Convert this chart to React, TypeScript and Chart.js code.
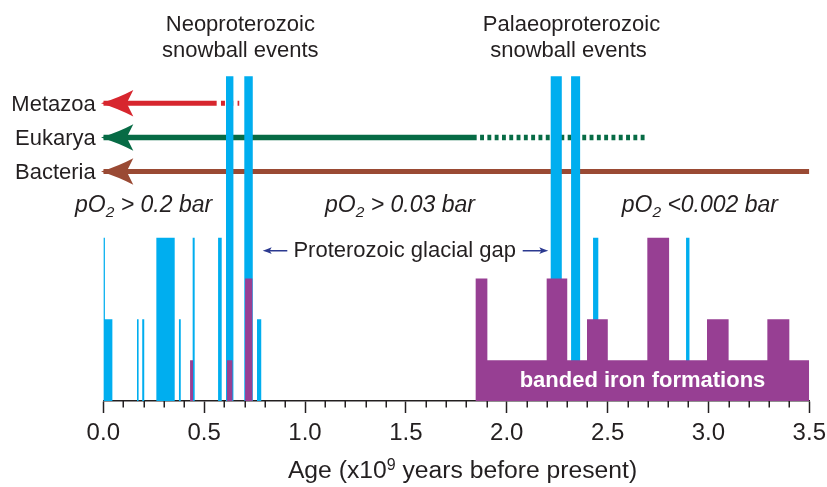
import React, { useEffect, useRef } from 'react';
import { Chart, registerables } from 'chart.js';

Chart.register(...registerables);

// ---------- data (age in 10^9 years before present; bar heights in record levels) ----------
const glacialStart = [0.0, 0.0, 0.167, 0.193, 0.263, 0.375, 0.443, 0.569, 0.762, 2.428, 2.889];
const glacialEnd = [0.008, 0.045, 0.175, 0.203, 0.354, 0.384, 0.453, 0.587, 0.783, 2.454, 2.907];
const glacialLevel = [4, 2, 2, 2, 4, 2, 4, 4, 2, 4, 4];

const snowballStart = [0.608, 0.699, 2.218, 2.319];
const snowballEnd = [0.645, 0.741, 2.273, 2.365];
const snowballLevel = [7.95, 7.95, 7.95, 7.95];

const bifStart = [0.43, 0.613, 0.703, 1.846, 1.846, 2.198, 2.398, 2.697, 2.993, 3.292];
const bifEnd = [0.445, 0.64, 0.739, 3.5, 1.904, 2.3, 2.501, 2.805, 3.1, 3.401];
const bifLevel = [1, 1, 3, 1, 3, 3, 2, 4, 2, 2];

const lineageNames = ['Metazoa', 'Eukarya', 'Bacteria'];
const lineageSolidEnd = [0.562, 1.851, 3.5];
const lineageUncertainEnd: (number | null)[] = [0.674, 2.699, null];

const ageMin = 0;
const ageMax = 3.5;
const ageMajorStep = 0.5;
const ageMinorStep = 0.1;

const oxygenLabels = [' > 0.2 bar', ' > 0.03 bar', ' <0.002 bar'];

// ---------- layout / style ----------
const W = 827;
const H = 487;
const FONT = "'Liberation Sans', Arial, Helvetica, sans-serif";
const TEXT = '#231f20';
const BLUE = '#00aeef';
const PURPLE = '#973f93';
const GAP_BLUE = '#2b3990';
const lineageColor = ['#d7262e', '#076b45', '#9a4a34'];
const lineageRow = [7.29, 6.45, 5.62];
const oxygenX = [75, 325, 621.7];

function stepPoints(starts: number[], ends: number[], levels: number[]) {
  const edges = Array.from(new Set([...starts, ...ends])).sort((a, b) => a - b);
  const pts: { x: number; y: number }[] = [];
  for (let i = 0; i < edges.length; i++) {
    const a = edges[i];
    const b = edges[i + 1];
    let h = 0;
    if (b !== undefined) {
      const m = (a + b) / 2;
      starts.forEach((s, k) => {
        if (s <= m && ends[k] >= m) h = Math.max(h, levels[k]);
      });
    }
    pts.push({ x: a, y: h });
  }
  return pts;
}

function drawHead(ctx: CanvasRenderingContext2D, tipX: number, y: number, len: number, half: number, notch: number, color: string, dir = 1) {
  ctx.fillStyle = color;
  ctx.beginPath();
  ctx.moveTo(tipX, y);
  ctx.quadraticCurveTo(tipX + dir * len * 0.55, y - half * 0.42, tipX + dir * len, y - half);
  ctx.lineTo(tipX + dir * (len - notch), y);
  ctx.lineTo(tipX + dir * len, y + half);
  ctx.quadraticCurveTo(tipX + dir * len * 0.55, y + half * 0.42, tipX, y);
  ctx.closePath();
  ctx.fill();
}

const annotations = {
  id: 'annotations',
  afterDraw(chart: any) {
    const { ctx } = chart;
    const x = chart.scales.x;
    const y = chart.scales.y;
    ctx.save();

    // minor ticks
    ctx.strokeStyle = TEXT;
    ctx.lineWidth = 1.5;
    const n = Math.round((ageMax - ageMin) / ageMinorStep);
    const per = Math.round(ageMajorStep / ageMinorStep);
    const base = chart.chartArea.bottom;
    for (let i = 1; i < n; i++) {
      if (i % per === 0) continue;
      const px = Math.round(x.getPixelForValue(ageMin + i * ageMinorStep)) + 0.25;
      ctx.beginPath();
      ctx.moveTo(px, base);
      ctx.lineTo(px, base + 6.5);
      ctx.stroke();
    }

    // lineage arrowheads + labels
    lineageNames.forEach((name, i) => {
      const py = y.getPixelForValue(lineageRow[i]);
      const tip = x.getPixelForValue(0) - 2.3;
      drawHead(ctx, tip, py, 32.3, 13.3, 6.6, lineageColor[i]);
      ctx.font = `22px ${FONT}`;
      ctx.fillStyle = TEXT;
      ctx.textAlign = 'right';
      ctx.textBaseline = 'alphabetic';
      ctx.fillText(name, tip - 5.3, py + 7.5);
    });

    // snowball titles
    ctx.font = `22px ${FONT}`;
    ctx.fillStyle = TEXT;
    ctx.textAlign = 'center';
    const neoX = x.getPixelForValue((snowballStart[0] + snowballEnd[1]) / 2);
    const palX = x.getPixelForValue((snowballStart[2] + snowballEnd[3]) / 2) + 3;
    ctx.fillText('Neoproterozoic', neoX + 1, 31);
    ctx.fillText('snowball events', neoX + 1, 57);
    ctx.fillText('Palaeoproterozoic', palX + 3, 31);
    ctx.fillText('snowball events', palX, 57);

    // pO2 labels
    oxygenLabels.forEach((rest, i) => {
      let cx = oxygenX[i];
      const bl = 211.7;
      ctx.textAlign = 'left';
      ctx.fillStyle = TEXT;
      ctx.font = `italic 23px ${FONT}`;
      ctx.fillText('pO', cx, bl);
      cx += ctx.measureText('pO').width;
      ctx.font = `italic 15.5px ${FONT}`;
      ctx.fillText('2', cx, bl + 5);
      cx += ctx.measureText('2').width;
      ctx.font = `italic 23px ${FONT}`;
      ctx.fillText(rest, cx, bl);
    });

    // glacial gap
    ctx.font = `22px ${FONT}`;
    ctx.textAlign = 'center';
    ctx.fillStyle = TEXT;
    ctx.fillText('Proterozoic glacial gap', 404.7, 256.7);
    ctx.strokeStyle = GAP_BLUE;
    ctx.lineWidth = 1.4;
    const ay = 250.7;
    ctx.beginPath();
    ctx.moveTo(287.3, ay);
    ctx.lineTo(268, ay);
    ctx.moveTo(522.7, ay);
    ctx.lineTo(543, ay);
    ctx.stroke();
    drawHead(ctx, 262.7, ay, 9, 3.4, 2, GAP_BLUE, 1);
    drawHead(ctx, 548.3, ay, 9, 3.4, 2, GAP_BLUE, -1);

    // banded iron formations label
    ctx.font = `bold 22px ${FONT}`;
    ctx.fillStyle = '#ffffff';
    ctx.textAlign = 'center';
    ctx.fillText('banded iron formations', x.getPixelForValue((bifStart[3] + bifEnd[3]) / 2), 386.7);

    // axis title with superscript
    const p1 = 'Age (x10';
    const p2 = '9';
    const p3 = ' years before present)';
    const big = `24.7px ${FONT}`;
    const small = `16px ${FONT}`;
    ctx.font = big;
    const w1 = ctx.measureText(p1).width;
    const w3 = ctx.measureText(p3).width;
    ctx.font = small;
    const w2 = ctx.measureText(p2).width;
    const total = w1 + w2 + w3;
    let tx = 462.5 - total / 2;
    ctx.textAlign = 'left';
    ctx.fillStyle = TEXT;
    ctx.font = big;
    ctx.fillText(p1, tx, 478.3);
    tx += w1;
    ctx.font = small;
    ctx.fillText(p2, tx, 469.5);
    tx += w2;
    ctx.font = big;
    ctx.fillText(p3, tx, 478.3);

    ctx.restore();
  },
};

export default function App() {
  const ref = useRef<HTMLCanvasElement | null>(null);

  useEffect(() => {
    if (!ref.current) return;
    const clear = 'rgba(0,0,0,0)';
    const barDs = (data: any[], color: string) => ({
      data,
      stepped: true,
      fill: 'origin',
      backgroundColor: color,
      borderColor: clear,
      borderWidth: 0,
      pointRadius: 0,
    });
    const lineDs: any[] = [];
    lineageNames.forEach((_, i) => {
      lineDs.push({
        data: [
          { x: 0, y: lineageRow[i] },
          { x: lineageSolidEnd[i], y: lineageRow[i] },
        ],
        borderColor: lineageColor[i],
        borderWidth: i === 1 ? 5.5 : 5,
        borderCapStyle: 'butt',
        pointRadius: 0,
        fill: false,
      });
      const ue = lineageUncertainEnd[i];
      if (ue !== null) {
        lineDs.push({
          data: [
            { x: lineageSolidEnd[i], y: lineageRow[i] },
            { x: ue, y: lineageRow[i] },
          ],
          borderColor: lineageColor[i],
          borderWidth: i === 1 ? 5.5 : 5,
          borderCapStyle: 'butt',
          borderDash: i === 0 ? [4, 4.3] : [3.9, 3.4],
          borderDashOffset: i === 0 ? 4 : 3.9,
          pointRadius: 0,
          fill: false,
        });
      }
    });

    const chart = new Chart(ref.current, {
      type: 'line',
      data: {
        datasets: [
          barDs(stepPoints(bifStart, bifEnd, bifLevel), PURPLE),
          barDs(stepPoints(snowballStart, snowballEnd, snowballLevel), BLUE),
          barDs(stepPoints(glacialStart, glacialEnd, glacialLevel), BLUE),
          ...lineDs,
        ] as any,
      },
      options: {
        responsive: false,
        devicePixelRatio: 1,
        animation: false,
        events: [],
        layout: { padding: { left: 103.3, right: 17.7, top: 13, bottom: 0 } },
        plugins: { legend: { display: false }, tooltip: { enabled: false } },
        scales: {
          x: {
            type: 'linear',
            min: ageMin,
            max: ageMax,
            z: 1,
            afterFit: (scale: any) => {
              scale.height = 86;
              scale.paddingLeft = 0;
              scale.paddingRight = 0;
            },
            ticks: {
              stepSize: ageMajorStep,
              autoSkip: false,
              maxRotation: 0,
              padding: 5.5,
              color: TEXT,
              font: { family: FONT, size: 24 },
              callback: (v: any) => Number(v).toFixed(1),
            },
            grid: {
              display: true,
              drawOnChartArea: false,
              drawTicks: true,
              tickLength: 12,
              tickWidth: 1.5,
              tickColor: TEXT,
            },
            border: { display: true, color: TEXT, width: 1.5 },
          },
          y: {
            type: 'linear',
            display: false,
            min: 0,
            max: 9.5,
          },
        },
      } as any,
      plugins: [annotations],
    });
    return () => chart.destroy();
  }, []);

  return (
    <div style={{ position: 'fixed', left: 0, top: 0, width: W, height: H, background: '#fff' }}>
      <canvas ref={ref} width={W} height={H} style={{ display: 'block' }} />
    </div>
  );
}
